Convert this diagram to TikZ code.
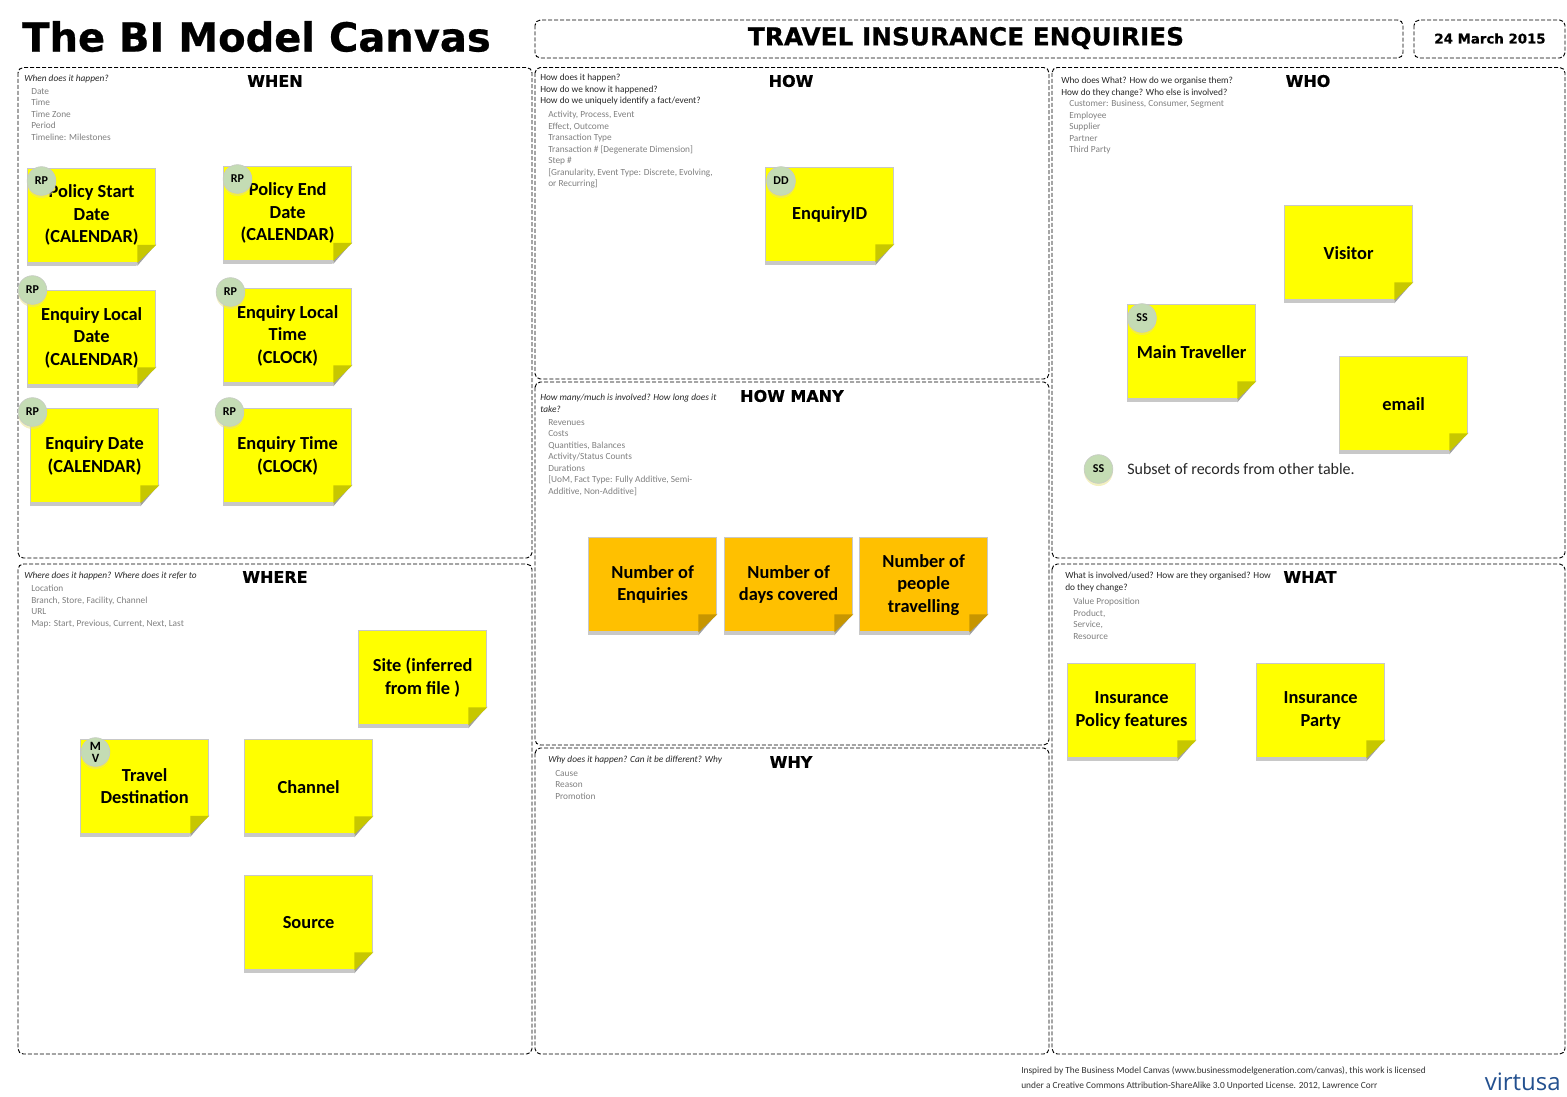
\documentclass[tikz,border=0pt]{standalone}
\usepackage{fontspec}
\setmainfont{Carlito}
\newfontfamily\headfont[BoldFeatures={FakeBold=0.6}]{DejaVu Sans}
\newfontfamily\logofont{Open Sans}
\definecolor{noteyellow}{HTML}{FFFF00}
\definecolor{noteorange}{HTML}{FFC000}
\definecolor{noteedge}{HTML}{C8C8C8}
\definecolor{tagfill}{HTML}{C4DCB4}
\definecolor{hintgray}{HTML}{808080}
\definecolor{logoblue}{HTML}{23508F}
\tikzset{
  x=0.75pt,y=-0.75pt,
  panel/.style={draw=black,dash pattern=on 3pt off 1.5pt,line width=0.7pt,rounded corners=4pt},
  note/.style={draw=noteedge,line width=0.75pt,anchor=north west,inner sep=0pt,
    minimum width=96.2pt,minimum height=70.8pt,align=center,
    font=\fontsize{13.8}{16.9}\selectfont\bfseries},
  tag/.style={circle,fill=tagfill,draw=noteedge!80!tagfill,line width=0.5pt,inner sep=0pt,minimum size=21.5pt,
    align=center,font=\fontsize{9}{10.5}\selectfont\bfseries,
    preaction={draw=none,fill=black!20!yellow!55!white,opacity=0.5,transform canvas={yshift=-2pt}}},
  heading/.style={inner sep=0pt,font=\headfont\fontsize{12}{15}\selectfont\bfseries},
  question/.style={anchor=north west,inner sep=0pt,align=left,text=black!85,yshift=-1.6pt,
    font=\fontsize{7}{8.5}\selectfont},
  hint/.style={anchor=north west,inner sep=0pt,align=left,text=hintgray,yshift=-1.6pt,
    font=\fontsize{7}{8.6}\selectfont},
}
\newcommand\Note[4][noteyellow]{
  \fill[noteedge] (#3) ++(0,90) rectangle ++(110,8);
  \node[note,fill=#1] (#2) at (#3) {#4};
  \fill[white] ([shift={(-20,3)}]#2.south east) -- ([shift={(1,-20)}]#2.south east)
    -- ([shift={(1,4)}]#2.south east) -- cycle;
  \fill[gray!75] ([shift={(-19,3)}]#2.south east) -- ([shift={(0,-19)}]#2.south east)
    -- ([shift={(-19,0)}]#2.south east) -- cycle;
  \fill[#1!78!black] ([shift={(-19,0)}]#2.south east) -- ([shift={(-19,-18)}]#2.south east)
    -- ([shift={(0,-18)}]#2.south east) -- cycle;
}
\begin{document}
\begin{tikzpicture}
  \useasboundingbox (0,0) rectangle (1567,1096);
  % header
  \node[anchor=base west,inner sep=0pt,font=\headfont\fontsize{30}{36}\selectfont\bfseries] (canvasTitle) at (22,51.5) {The BI Model Canvas};
  \draw[panel] (535,20) rectangle (1403,58);
  \draw[panel] (1414,20) rectangle (1565,58);
  \node[heading,font=\headfont\fontsize{18.6}{23}\selectfont\bfseries] (enquiryTitle) at (966,38) {TRAVEL INSURANCE ENQUIRIES};
  \node[heading,font=\headfont\fontsize{10}{12}\selectfont\bfseries] (dateLabel) at (1490,38.5) {24 March 2015};
  % panels
  \draw[panel] (18,67.5) rectangle (532,558);
  \draw[panel] (18,564) rectangle (532,1054);
  \draw[panel] (535,67.5) rectangle (1049,379);
  \draw[panel] (535,382) rectangle (1049,745);
  \draw[panel] (535,748) rectangle (1049,1054);
  \draw[panel] (1052,67.5) rectangle (1565,558);
  \draw[panel] (1052,564) rectangle (1565,1054);
  % headings
  \node[heading] (whenHead) at (275,81) {WHEN};
  \node[heading] (whereHead) at (275,577) {WHERE};
  \node[heading] (howHead) at (791,81) {HOW};
  \node[heading] (howManyHead) at (792,396) {HOW MANY};
  \node[heading] (whyHead) at (791,762) {WHY};
  \node[heading] (whoHead) at (1308,81) {WHO};
  \node[heading] (whatHead) at (1310,577) {WHAT};
  % prompts
  \node[question] (whenAsk) at (24,73) {\itshape When does it happen?};
  \node[hint] (whenList) at (31,86) {Date\\Time\\Time Zone\\Period\\Timeline: Milestones};
  \node[question] (whereAsk) at (24,570) {\itshape Where does it happen?  Where does it refer to};
  \node[hint] (whereList) at (31,583) {Location\\Branch, Store, Facility, Channel\\URL\\Map: Start, Previous, Current, Next, Last};
  \node[question] (howAsk) at (540,72) {How does it happen?\\How do we know it happened?\\How do we uniquely identify a fact/event?};
  \node[hint] (howList) at (548,109) {Activity, Process, Event\\Effect, Outcome\\Transaction Type\\Transaction \# [Degenerate Dimension]\\Step \#\\{[}Granularity, Event Type: Discrete, Evolving,\\or Recurring]};
  \node[question] (howManyAsk) at (540,392) {\itshape How many/much is involved? How long does it\\\itshape take?};
  \node[hint] (howManyList) at (548,417) {Revenues\\Costs\\Quantities, Balances\\Activity/Status Counts\\Durations\\{[}UoM, Fact Type: Fully Additive, Semi-\\Additive, Non-Additive]};
  \node[question] (whyAsk) at (548,754) {\itshape Why does it happen? Can it be different? Why};
  \node[hint] (whyList) at (555,768) {Cause\\Reason\\Promotion};
  \node[question] (whoAsk) at (1061,75) {Who does What? How do we organise them?\\How do they change? Who else is involved?};
  \node[hint] (whoList) at (1069,98) {Customer: Business, Consumer, Segment\\Employee\\Supplier\\Partner\\Third Party};
  \node[question] (whatAsk) at (1065,570) {What is involved/used? How are they organised?  How\\do they change?};
  \node[hint] (whatList) at (1073,596) {Value Proposition\\Product,\\Service,\\Resource};
  % when
  \Note{policyStart}{27,167.5}{Policy Start\\Date\\(CALENDAR)}
  \Note{policyEnd}{223,165.5}{Policy End\\Date\\(CALENDAR)}
  \Note{localDate}{27,290}{Enquiry Local\\Date\\(CALENDAR)}
  \Note{localTime}{223,288}{Enquiry Local\\Time\\(CLOCK)}
  \Note{enquiryDate}{30,408}{Enquiry Date\\(CALENDAR)}
  \Note{enquiryTime}{223,408}{Enquiry Time\\(CLOCK)}
  % how
  \Note{enquiryId}{765,167}{EnquiryID}
  % how many
  \Note[noteorange]{numEnquiries}{588,537}{Number of\\Enquiries}
  \Note[noteorange]{numDays}{724,537}{Number of\\days covered}
  \Note[noteorange]{numPeople}{859,537}{Number of\\people\\travelling}
  % who
  \Note{visitor}{1284,205}{Visitor}
  \Note{mainTraveller}{1127,304}{Main Traveller}
  \Note{email}{1339,356}{email}
  % where
  \Note{site}{358,630}{Site (inferred\\from file )}
  \Note{destination}{80,738.5}{Travel\\Destination}
  \Note{channel}{244,739}{Channel}
  \Note{source}{244,875}{Source}
  % what
  \Note{policyFeatures}{1067,663}{Insurance\\Policy features}
  \Note{party}{1256,663}{Insurance\\Party}
  % role tags
  \node[tag] (tagStart) at (41.5,181) {RP};
  \node[tag] (tagEnd) at (237.5,179) {RP};
  \node[tag] (tagLocalDate) at (32.5,290) {RP};
  \node[tag] (tagLocalTime) at (230.5,292) {RP};
  \node[tag] (tagDate) at (32.5,412) {RP};
  \node[tag] (tagTime) at (229.5,412) {RP};
  \node[tag] (tagId) at (781,181) {DD};
  \node[tag] (tagTraveller) at (1142,318) {SS};
  \node[tag,font=\fontsize{9.5}{9}\selectfont\bfseries] (tagDest) at (95.5,752) {M\\V};
  \node[tag] (tagLegend) at (1098.5,469) {SS};
  \node[anchor=west,inner sep=0pt,text=black!85,font=\fontsize{12}{14}\selectfont] (legendText) at (1127,469) {Subset of records from other table.};
  % footer
  \node[anchor=north west,inner sep=0pt,align=left,text=black!80,font=\fontsize{7.03}{11.2}\selectfont] (creditText) at (1021,1066)
    {Inspired by The Business Model Canvas (www.businessmodelgeneration.com/canvas), this work is licensed\\under a Creative Commons Attribution-ShareAlike 3.0 Unported License. 2012, Lawrence Corr};
  \node[anchor=base east,inner sep=0pt,text=logoblue,font=\logofont\fontsize{18}{20}\selectfont] (logoText) at (1561,1090) {virtusa};
\end{tikzpicture}
\end{document}
